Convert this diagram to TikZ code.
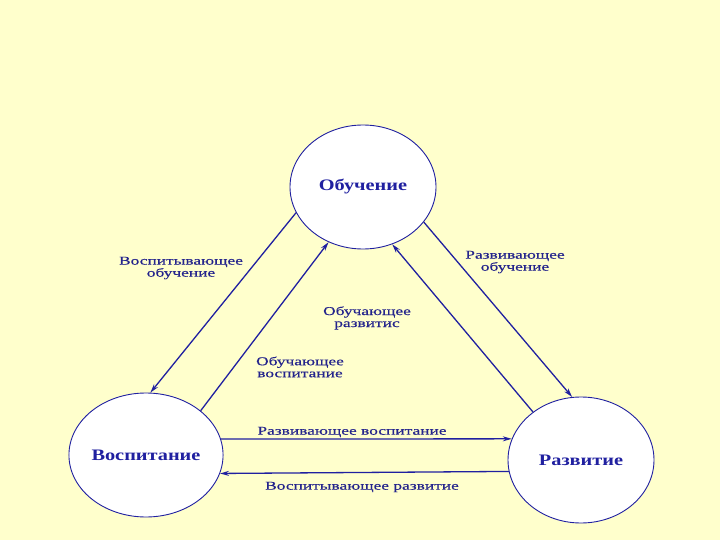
\documentclass[tikz,border=0pt]{standalone}
\usepackage{fontspec}
\setmainfont{Liberation Serif}
\newfontfamily\lblfont{Liberation Serif}[FakeStretch=1.45,FakeBold=0.4]
\newfontfamily\nodefont{Liberation Serif}[FakeStretch=1.27]
\usetikzlibrary{shapes.geometric,arrows.meta}
\definecolor{bg}{RGB}{255,255,204}
\definecolor{ink}{RGB}{32,32,160}
\definecolor{lblink}{RGB}{36,36,140}
\begin{document}
\begin{tikzpicture}[x=1pt,y=-1pt,
  circ/.style={ellipse,draw=ink,line width=0.9pt,fill=white,inner sep=0pt,
    font=\nodefont\bfseries\fontsize{16}{18}\selectfont,text=ink},
  lbl/.style={font=\lblfont\fontsize{12}{12}\selectfont,text=lblink,align=center,inner sep=0pt},
  arr/.style={draw=ink,line width=1.3pt,-{Stealth[length=9pt,width=5pt]}}]
\fill[bg] (0,0) rectangle (720,540);
\useasboundingbox (0,0) rectangle (720,540);
\node[circ,minimum width=146pt,minimum height=124pt] (T) at (363,187) {Обучение};
\node[circ,minimum width=148pt,minimum height=124pt] (L) at (146,455) {Воспитание};
\node[circ,minimum width=146pt,minimum height=126pt] (R) at (581,460) {Развитие};
\draw[arr] (T.201) -- (L.86);
\draw[arr] (L.39.6) -- (T.238.6);
\draw[arr] (T.330) -- (R.98);
\draw[arr] (R.135) -- (T.297.4);
\draw[arr] (L.12.62) -- (R.163.03);
\draw[arr] (R.189.51) -- (L.346.57);
\node[lbl] (vo) at (181,268) {Воспитывающее\\обучение};
\node[lbl] (ro) at (515,262) {Развивающее\\обучение};
\node[lbl] (or) at (367,318) {Обучающее\\развитис};
\node[lbl] (ov) at (300,367) {Обучающее\\воспитание};
\node[lbl] (rv) at (352,432) {Развивающее воспитание};
\node[lbl] (vr) at (362,487) {Воспитывающее развитие};
\end{tikzpicture}
\end{document}
